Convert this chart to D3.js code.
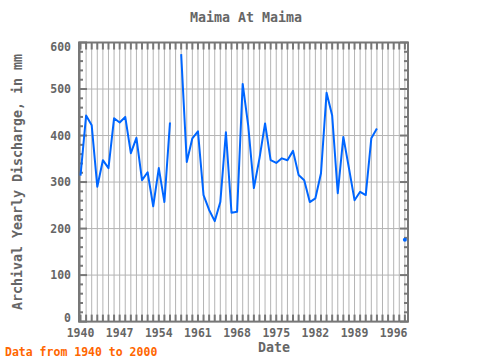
<!DOCTYPE html>
<html><head><meta charset="utf-8">
<script src="https://cdn.jsdelivr.net/npm/d3@7"></script>
<style>body{margin:0;background:#fff}svg{display:block}</style>
</head><body>
<svg id="c" width="480" height="360"></svg>
<script>
const years = d3.range(1940, 1999);
const discharge = [314,443,422,290,347,330,437,428,440,362,
  395,304,321,248,330,257,428,null,575,343,
  394,409,272,240,216,257,407,234,236,511,
  420,287,351,426,347,341,351,347,367,315,
  304,257,265,319,492,443,276,397,330,261,
  279,272,394,415,null,null,null,null,176];
const xTicks = [1940,1947,1954,1961,1968,1975,1982,1989,1996];
const yTicks = [0,100,200,300,400,500,600];
const data = years.map((y,i)=>({year:y, v:discharge[i]}));

const svg = d3.select("#c");
const L=79, R=408, T=42.5, B=321.6;
const x = d3.scaleLinear().domain([1939.73,1998.56]).range([L,R]);
const y = d3.scaleLinear().domain([0,600]).range([B,T]);
const font = "'DejaVu Sans Mono', monospace";
const gray = "#777";

// grid
svg.append("g").selectAll("line").data(years).join("line")
  .attr("x1",d=>x(d)).attr("x2",d=>x(d)).attr("y1",T).attr("y2",B)
  .attr("stroke","#b4b4b4").attr("stroke-width",1);
svg.append("g").selectAll("line").data(yTicks).join("line")
  .attr("x1",L).attr("x2",R).attr("y1",d=>y(d)).attr("y2",d=>y(d))
  .attr("stroke","#b4b4b4").attr("stroke-width",1);

// ticks
const minorY = d3.range(0,601,20);
const tg = svg.append("g").attr("stroke",gray).attr("stroke-width",2);
years.forEach(yr=>{
  tg.append("line").attr("x1",x(yr)).attr("x2",x(yr)).attr("y1",B).attr("y2",B-7);
  tg.append("line").attr("x1",x(yr)).attr("x2",x(yr)).attr("y1",T).attr("y2",T+7);
});
minorY.forEach(v=>{
  const len = v%100===0?8:4;
  tg.append("line").attr("x1",L).attr("x2",L+len).attr("y1",y(v)).attr("y2",y(v));
  tg.append("line").attr("x1",R).attr("x2",R-len).attr("y1",y(v)).attr("y2",y(v));
});
svg.append("rect").attr("x",L).attr("y",T).attr("width",R-L).attr("height",B-T)
  .attr("fill","none").attr("stroke",gray).attr("stroke-width",2);

// line
const line = d3.line().defined(d=>d.v!==null).x(d=>x(d.year)).y(d=>y(d.v));
svg.append("path").datum(data).attr("d",line).attr("fill","none")
  .attr("stroke","#0066ff").attr("stroke-width",2).attr("stroke-linejoin","round");
const iso = data.filter((d,i)=>d.v!==null && (i===0||data[i-1].v===null) && (i===data.length-1||data[i+1].v===null));
svg.append("g").selectAll("circle").data(iso).join("circle")
  .attr("cx",d=>x(d.year)).attr("cy",d=>y(d.v)).attr("r",2).attr("fill","#0066ff");

// axis labels
svg.append("g").selectAll("text").data(xTicks).join("text")
  .attr("x",d=>x(d)).attr("y",337).attr("text-anchor","middle")
  .attr("font-family",font).attr("font-size",11.5).attr("font-weight","bold").attr("fill","#666").text(d=>d);
svg.append("g").selectAll("text").data(yTicks).join("text")
  .attr("x",71).attr("y",d=>y(d)+4+(d===0?-4:d===600?4:0)).attr("text-anchor","end")
  .attr("font-family",font).attr("font-size",11.5).attr("font-weight","bold").attr("fill","#666").text(d=>d);

svg.append("text").attr("x",246).attr("y",22).attr("text-anchor","middle")
  .attr("font-family",font).attr("font-size",13.3).attr("font-weight","bold").attr("fill","#666").text("Maima At Maima");
svg.append("text").attr("x",274).attr("y",352).attr("text-anchor","middle")
  .attr("font-family",font).attr("font-size",13.3).attr("font-weight","bold").attr("fill","#666").text("Date");
svg.append("text").attr("transform","translate(22,182) rotate(-90)").attr("text-anchor","middle")
  .attr("font-family",font).attr("font-size",13.3).attr("font-weight","bold").attr("fill","#666").text("Archival Yearly Discharge, in mm");
svg.append("text").attr("x",5).attr("y",356)
  .attr("font-family",font).attr("font-size",11.5).attr("font-weight","bold").attr("fill","#ff6600").text("Data from 1940 to 2000");
</script>
</body></html>
